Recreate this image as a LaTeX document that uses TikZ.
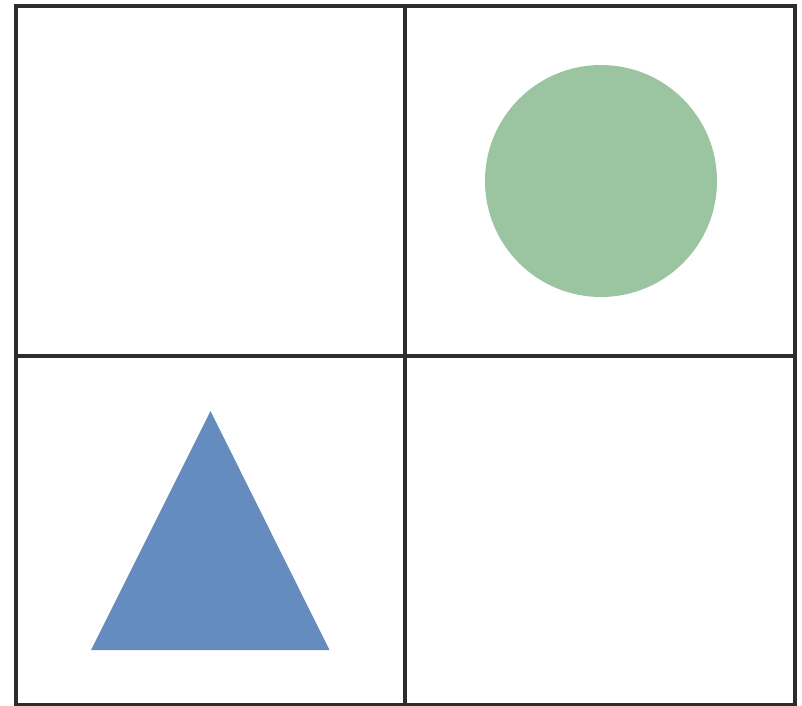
\documentclass[tikz,border=0pt]{standalone}
\definecolor{gridline}{RGB}{45,45,45}
\definecolor{triblue}{RGB}{100,140,191}
\definecolor{circgreen}{RGB}{155,196,160}
\tikzset{gridstyle/.style={draw=gridline,line width=4pt}}
\begin{document}
\begin{tikzpicture}[x=1pt,y=-1pt]
\useasboundingbox (0,0) rectangle (802,705);
\fill[white] (0,0) rectangle (802,705);
\coordinate (tl) at (16,6);
\coordinate (tr) at (794.5,6);
\coordinate (bl) at (16,705);
\coordinate (br) at (794.5,705);
\coordinate (mt) at (405,6);
\coordinate (mb) at (405,705);
\coordinate (ml) at (16,355.5);
\coordinate (mr) at (794.5,355.5);
\fill[circgreen] (601,181) circle (116);
\fill[triblue] (210.5,411) -- (91,650) -- (329.5,650) -- cycle;
\draw[gridstyle] (bl) -- (tl) -- (tr) -- (br) -- cycle;
\draw[gridstyle] (mt) -- (mb);
\draw[gridstyle] (ml) -- (mr);
\end{tikzpicture}
\end{document}
